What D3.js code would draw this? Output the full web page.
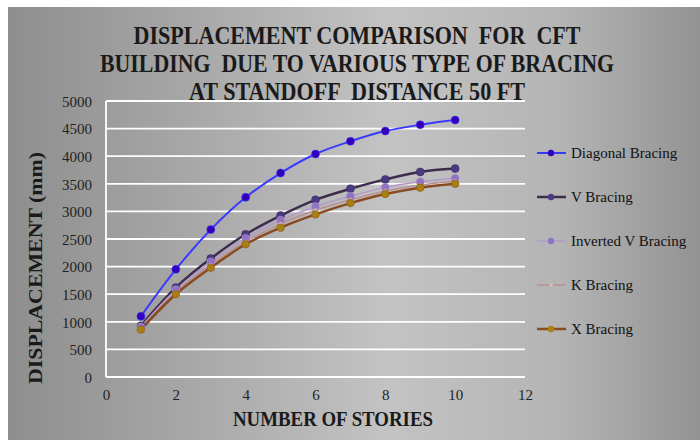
<!DOCTYPE html>
<html>
<head>
<meta charset="utf-8">
<script src="https://cdn.jsdelivr.net/npm/d3@7"></script>
<style>
  body { margin: 0; background: #fff; }
  text { font-family: "Liberation Serif", "Times New Roman", serif; }
</style>
</head>
<body>
<script>
// data
var stories = [1, 2, 3, 4, 5, 6, 7, 8, 9, 10];
var diagonal = [1100, 1950, 2670, 3255, 3695, 4040, 4270, 4455, 4570, 4655];
var vBracing = [930, 1620, 2145, 2585, 2925, 3210, 3410, 3580, 3715, 3775];
var invertedV = [905, 1580, 2085, 2510, 2840, 3090, 3275, 3435, 3535, 3600];
var kBracing = [885, 1535, 2030, 2450, 2775, 3020, 3210, 3370, 3475, 3550];
var xBracing = [860, 1500, 1980, 2405, 2705, 2945, 3150, 3315, 3430, 3500];
var seriesNames = ["Diagonal Bracing", "V Bracing", "Inverted V Bracing", "K Bracing", "X Bracing"];
var xTicks = [0, 2, 4, 6, 8, 10, 12];
var yTicks = [0, 500, 1000, 1500, 2000, 2500, 3000, 3500, 4000, 4500, 5000];

var series = [
    { name: seriesNames[0], values: diagonal, line: "#3a3aff", dot: "#3300bb", r: 4, w: 2 },
    { name: seriesNames[1], values: vBracing, line: "#3e2c4c", dot: "#4a3a86", r: 4, w: 2.5 },
    { name: seriesNames[2], values: invertedV, line: "#b49ac8", dot: "#8f72c2", r: 4, w: 1.5 },
    { name: seriesNames[3], values: kBracing, line: "#b89090", dot: "#c8c0b8", r: 2, w: 1.5 },
    { name: seriesNames[4], values: xBracing, line: "#8a4a22", dot: "#a88010", r: 3.8, w: 2.5 }
];

var width = 700,
    height = 440;
var plotLeft = 106, plotRight = 525, plotTop = 101, plotBottom = 377;

var svg = d3.select("body").append("svg")
    .attr("width", width)
    .attr("height", height);

var grad = svg.append("defs").append("linearGradient")
    .attr("id", "bg")
    .attr("x1", "0").attr("x2", "1").attr("y1", "0").attr("y2", "0");
grad.append("stop").attr("offset", "0%").attr("stop-color", "#8e8e8e");
grad.append("stop").attr("offset", "55%").attr("stop-color", "#c3c3c3");
grad.append("stop").attr("offset", "80%").attr("stop-color", "#b4b4b4");
grad.append("stop").attr("offset", "100%").attr("stop-color", "#939393");

svg.append("rect")
    .attr("x", 8)
    .attr("y", 7)
    .attr("width", width - 8)
    .attr("height", height - 7)
    .attr("fill", "url(#bg)");

var x = d3.scaleLinear().domain([0, 12]).range([plotLeft, plotRight]);
var y = d3.scaleLinear().domain([0, 5000]).range([plotBottom, plotTop]);

// gridlines
svg.append("g")
    .selectAll("line")
    .data(yTicks)
    .enter().append("line")
    .attr("x1", plotLeft)
    .attr("x2", plotRight)
    .attr("y1", function(d) { return y(d); })
    .attr("y2", function(d) { return y(d); })
    .style("stroke", "#fff")
    .style("stroke-width", 1.8);

svg.append("line")
    .attr("x1", plotLeft).attr("x2", plotLeft)
    .attr("y1", plotTop).attr("y2", plotBottom)
    .style("stroke", "#fff")
    .style("stroke-width", 1.8);

// axes
var yAxis = svg.append("g")
    .attr("transform", "translate(" + (plotLeft - 14) + ",0)")
    .call(d3.axisLeft(y).tickValues(yTicks).tickSize(0).tickPadding(0).tickFormat(d3.format("d")));
yAxis.select(".domain").remove();
yAxis.selectAll("text")
    .attr("x", 0)
    .attr("dy", "0.35em")
    .style("font-size", "15px")
    .style("fill", "#222");

var xAxis = svg.append("g")
    .attr("transform", "translate(0," + (plotBottom + 12) + ")")
    .call(d3.axisBottom(x).tickValues(xTicks).tickSize(0).tickPadding(0));
xAxis.select(".domain").remove();
xAxis.selectAll("text")
    .attr("dy", "0.71em")
    .style("font-size", "15px")
    .style("fill", "#222");

// lines
var line = d3.line()
    .curve(d3.curveCatmullRom)
    .x(function(d, i) { return x(stories[i]); })
    .y(function(d) { return y(d); });

series.forEach(function(s) {
    svg.append("path")
        .datum(s.values)
        .attr("d", line)
        .style("fill", "none")
        .style("stroke", s.line)
        .style("stroke-width", s.w);
});

series.forEach(function(s) {
    svg.append("g")
        .selectAll("circle")
        .data(s.values)
        .enter().append("circle")
        .attr("cx", function(d, i) { return x(stories[i]); })
        .attr("cy", function(d) { return y(d); })
        .attr("r", s.r)
        .style("fill", s.dot)
        .style("stroke", s.line)
        .style("stroke-opacity", 0.5)
        .style("stroke-width", 1);
});

// legend
var legend = svg.append("g");
series.forEach(function(s, i) {
    var ly = 153 + i * 44;
    legend.append("line")
        .attr("x1", 537).attr("x2", 566)
        .attr("y1", ly).attr("y2", ly)
        .style("stroke", s.line)
        .style("stroke-width", s.w);
    legend.append("circle")
        .attr("cx", 551).attr("cy", ly)
        .attr("r", Math.min(s.r, 3.2))
        .style("fill", s.dot);
    legend.append("text")
        .attr("x", 571)
        .attr("y", ly)
        .attr("dy", "0.35em")
        .style("font-size", "15px")
        .style("fill", "#111")
        .text(s.name);
});

// titles
var titleLines = [
    { t: "DISPLACEMENT COMPARISON  FOR  CFT", y: 44, len: 447 },
    { t: "BUILDING  DUE TO VARIOUS TYPE OF BRACING", y: 72, len: 514 },
    { t: "AT STANDOFF  DISTANCE 50 FT", y: 100, len: 336 }
];
titleLines.forEach(function(l) {
    svg.append("text")
        .attr("x", 357)
        .attr("y", l.y)
        .attr("text-anchor", "middle")
        .attr("textLength", l.len)
        .attr("lengthAdjust", "spacingAndGlyphs")
        .style("font-size", "26px")
        .style("font-weight", "bold")
        .style("fill", "#1a1a1a")
        .style("white-space", "pre")
        .text(l.t);
});

svg.append("text")
    .attr("x", 333)
    .attr("y", 426)
    .attr("text-anchor", "middle")
    .attr("textLength", 200)
    .attr("lengthAdjust", "spacingAndGlyphs")
    .style("font-size", "20px")
    .style("font-weight", "bold")
    .style("fill", "#1a1a1a")
    .text("NUMBER OF STORIES");

svg.append("text")
    .attr("transform", "translate(42,268) rotate(-90)")
    .attr("text-anchor", "middle")
    .attr("textLength", 232)
    .attr("lengthAdjust", "spacingAndGlyphs")
    .style("font-size", "19px")
    .style("font-weight", "bold")
    .style("fill", "#1a1a1a")
    .text("DISPLACEMENT (mm)");
</script>
</body>
</html>
